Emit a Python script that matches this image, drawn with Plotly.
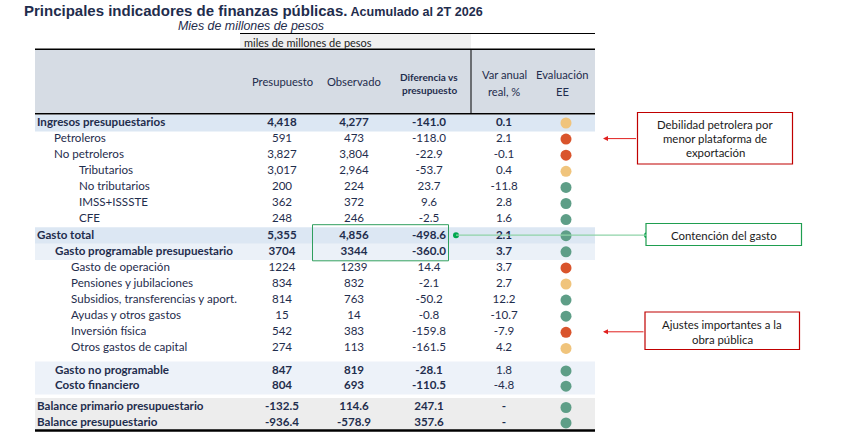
import plotly.graph_objects as go

# ---------------- data ----------------
labels = ["Ingresos presupuestarios", "Petroleros", "No petroleros", "Tributarios",
          "No tributarios", "IMSS+ISSSTE", "CFE", "Gasto total",
          "Gasto programable presupuestario", "Gasto de operación",
          "Pensiones y jubilaciones", "Subsidios, transferencias y aport.",
          "Ayudas y otros gastos", "Inversión física", "Otros gastos de capital",
          "Gasto no programable", "Costo financiero",
          "Balance primario presupuestario", "Balance presupuestario"]
presupuesto = [4418, 591, 3827, 3017, 200, 362, 248, 5355, 3704, 1224, 834, 814, 15,
               542, 274, 847, 804, -132.5, -936.4]
observado = [4277, 473, 3804, 2964, 224, 372, 246, 4856, 3344, 1239, 832, 763, 14,
             383, 113, 819, 693, 114.6, -578.9]
diferencia = [-141.0, -118.0, -22.9, -53.7, 23.7, 9.6, -2.5, -498.6, -360.0, 14.4,
              -2.1, -50.2, -0.8, -159.8, -161.5, -28.1, -110.5, 247.1, 357.6]
var_anual = [0.1, 2.1, -0.1, 0.4, -11.8, 2.8, 1.6, 2.1, 3.7, 3.7, 2.7, 12.2, -10.7,
             -7.9, 4.2, 1.8, -4.8, None, None]
evaluacion = ["amarillo", "rojo", "rojo", "amarillo", "verde", "verde", "verde", "verde",
              "verde", "rojo", "amarillo", "verde", "verde", "rojo", "amarillo",
              "verde", "verde", "verde", "verde"]
col_headers = ["Presupuesto", "Observado", "Diferencia vs<br>presupuesto",
               "Var anual<br>real, %", "Evaluación<br>EE"]

# ---------------- styles / layout ----------------
NAVY = "#1f2d4d"
FONT = "Lato"
FS = 11.6
# number format per row: 'c' thousands comma, 'n' plain integer, 'd' one decimal
num_fmt = ["c"] * 8 + ["n"] * 9 + ["d"] * 2
bold_rows = {0, 7, 8, 15, 16, 17, 18}
bold_var_rows = {0, 7, 8, 17, 18}
indent_x = [37, 54, 54, 79, 79, 79, 79, 37, 55, 71, 71, 71, 71, 71, 71, 55, 55, 37, 37]
steps = [0] + [16.1] * 14 + [22.5, 15.3, 21.3, 15.4]
row_y = []
acc = 123.0
for s in steps:
    acc += s
    row_y.append(acc)

ee_colors = {"amarillo": "#f0c47c", "rojo": "#d9542c", "verde": "#5e9e87"}
col_x = [282, 354, 429, 504, 566]


def fmt(v, kind):
    if v is None:
        return "-"
    if kind == "c":
        return f"{v:,.0f}"
    if kind == "n":
        return f"{v:.0f}"
    return f"{v:.1f}"


def b(s, on):
    return f"<b>{s}</b>" if on else s


fig = go.Figure()

# ---------------- background shapes ----------------
shapes = []


def rect(x0, y0, x1, y1, fill=None, line=None, lw=0):
    shapes.append(dict(type="rect", xref="x", yref="y", x0=x0, y0=y0, x1=x1, y1=y1,
                       fillcolor=fill if fill else "rgba(0,0,0,0)",
                       line=dict(color=line if line else "rgba(0,0,0,0)", width=lw),
                       layer="below"))


def hline(x0, x1, y, color="black", w=1):
    shapes.append(dict(type="line", xref="x", yref="y", x0=x0, x1=x1, y0=y, y1=y,
                       line=dict(color=color, width=w)))


L, R = 35, 595
rect(240, 34, 471, 49, fill="#f0f0f0")
rect(L, 49.5, R, 113.5, fill="#d6dce4")
rect(L, row_y[0] - 8.3, R, row_y[0] + 8.5, fill="#dce7f3")
rect(L, row_y[7] - 8.5, R, row_y[7] + 8.2, fill="#dce7f3")
rect(L, row_y[8] - 8.2, R, row_y[8] + 8.2, fill="#ebf1f8")
rect(L, row_y[15] - 9.3, R, row_y[16] + 8.3, fill="#edf2f9")
rect(L, row_y[17] - 9.6, R, row_y[18] + 6.5, fill="#ededed")

hline(240, R, 33.5, w=1)
hline(L, R, 49.3, w=1.5)
hline(L, R, 113.8, w=1.5)
hline(L, R, 430.5, w=2.5)
shapes.append(dict(type="line", xref="x", yref="y", x0=471, x1=471, y0=49, y1=114,
                   line=dict(color="black", width=1)))

# green highlight rectangle around Gasto total / programable
shapes.append(dict(type="rect", xref="x", yref="y", x0=312.5, x1=448.5,
                   y0=row_y[7] - 11, y1=row_y[8] + 9,
                   line=dict(color="#2f9e5e", width=1)))
# annotation boxes
shapes.append(dict(type="rect", xref="x", yref="y", x0=637.5, x1=792.5, y0=112.5, y1=164,
                   line=dict(color="#c00000", width=1.2), fillcolor="white"))
shapes.append(dict(type="rect", xref="x", yref="y", x0=646, x1=801.5, y0=223.5, y1=245.5,
                   line=dict(color="#1f9e50", width=1.2), fillcolor="white"))
shapes.append(dict(type="rect", xref="x", yref="y", x0=645, x1=799.5, y0=312, y1=349.5,
                   line=dict(color="#c00000", width=1.2), fillcolor="white"))
# green connector line
shapes.append(dict(type="line", xref="x", yref="y", x0=456, x1=647, y0=row_y[7] - 0.5,
                   y1=row_y[7] - 0.5, line=dict(color="#8fd3a8", width=1.2)))

# ---------------- table text ----------------
fig.add_trace(go.Scatter(
    x=indent_x, y=row_y, mode="text", textposition="middle right",
    text=[b(t, i in bold_rows) for i, t in enumerate(labels)],
    textfont=dict(family=FONT, size=FS, color=NAVY), hoverinfo="skip", showlegend=False))

for ci, vals in enumerate([presupuesto, observado]):
    fig.add_trace(go.Scatter(
        x=[col_x[ci]] * len(vals), y=row_y, mode="text",
        text=[b(fmt(v, num_fmt[i]), i in bold_rows) for i, v in enumerate(vals)],
        textfont=dict(family=FONT, size=FS, color=NAVY), hoverinfo="skip", showlegend=False))

fig.add_trace(go.Scatter(
    x=[col_x[2]] * len(diferencia), y=row_y, mode="text",
    text=[b(fmt(v, "d"), i in bold_rows) for i, v in enumerate(diferencia)],
    textfont=dict(family=FONT, size=FS, color=NAVY), hoverinfo="skip", showlegend=False))

fig.add_trace(go.Scatter(
    x=[col_x[3]] * len(var_anual), y=row_y, mode="text",
    text=[b(fmt(v, "d"), i in bold_var_rows) for i, v in enumerate(var_anual)],
    textfont=dict(family=FONT, size=FS, color=NAVY), hoverinfo="skip", showlegend=False))

fig.add_trace(go.Scatter(
    x=[col_x[4]] * len(evaluacion), y=row_y, mode="markers",
    marker=dict(size=11, color=[ee_colors[e] for e in evaluacion], line=dict(width=0)),
    hoverinfo="skip", showlegend=False))

# connector dots
fig.add_trace(go.Scatter(x=[456, 647], y=[row_y[7] - 0.5] * 2, mode="markers",
                         marker=dict(size=6, color="#00a84f"), hoverinfo="skip",
                         showlegend=False))

# ---------------- annotations ----------------
ann = []
ann.append(dict(x=22, y=10, xref="x", yref="y", xanchor="left", yanchor="middle",
                showarrow=False,
                text="<b>Principales indicadores de finanzas públicas.</b>"
                     "<span style='font-size:12.6px'><b> Acumulado al 2T 2026</b></span>",
                font=dict(family="Liberation Sans", size=15, color=NAVY)))
ann.append(dict(x=251, y=26, xref="x", yref="y", xanchor="center", yanchor="middle",
                showarrow=False, text="<i>Mies de millones de pesos</i>",
                font=dict(family="Liberation Sans", size=12.4, color=NAVY)))
ann.append(dict(x=242, y=42, xref="x", yref="y", xanchor="left", yanchor="middle",
                showarrow=False, text="miles de millones de pesos",
                font=dict(family=FONT, size=11, color="#222222")))

hdr_y = [[81.5], [81.5], [76.5, 89.5], [74.5, 91.5], [74.5, 91.5]]
for ci, h in enumerate(col_headers):
    parts = h.split("<br>")
    for pi, p in enumerate(parts):
        bold = ci == 2
        ann.append(dict(x=col_x[ci] if ci < 4 else 562, y=hdr_y[ci][pi], xref="x", yref="y",
                        xanchor="center", yanchor="middle", showarrow=False,
                        text=b(p, bold),
                        font=dict(family=FONT, size=10 if bold else 11.2, color=NAVY)))

box_font = dict(family=FONT, size=11.4, color="#1a1a1a")
for t, yy in zip(["Debilidad petrolera por", "menor plataforma de", "exportación"],
                 [124.5, 138.5, 152.5]):
    ann.append(dict(x=715, y=yy, xref="x", yref="y", showarrow=False, text=t,
                    font=box_font, xanchor="center", yanchor="middle"))
ann.append(dict(x=724, y=235, xref="x", yref="y", showarrow=False,
                text="Contención del gasto", font=box_font, xanchor="center",
                yanchor="middle"))
for t, yy in zip(["Ajustes importantes a la", "obra pública"], [324.5, 339]):
    ann.append(dict(x=722, y=yy, xref="x", yref="y", showarrow=False, text=t,
                    font=box_font, xanchor="center", yanchor="middle"))

# red arrows pointing into the table
for yy, x0 in [(row_y[1] - 0.5, 637.5), (row_y[13] - 0.5, 645)]:
    ann.append(dict(x=603, y=yy, ax=x0, ay=yy, xref="x", yref="y", axref="x", ayref="y",
                    showarrow=True, arrowhead=2, arrowsize=1, arrowwidth=1,
                    arrowcolor="#e0201f", text=""))

fig.update_layout(
    width=855, height=448, autosize=False,
    margin=dict(l=0, r=0, t=0, b=0),
    paper_bgcolor="white", plot_bgcolor="white",
    xaxis=dict(range=[0, 855], visible=False, fixedrange=True),
    yaxis=dict(range=[448, 0], visible=False, fixedrange=True),
    shapes=shapes, annotations=ann, showlegend=False,
)

fig.write_html("out.html", config={"displayModeBar": False, "staticPlot": True},
               post_script="document.body.style.margin='0px';")
